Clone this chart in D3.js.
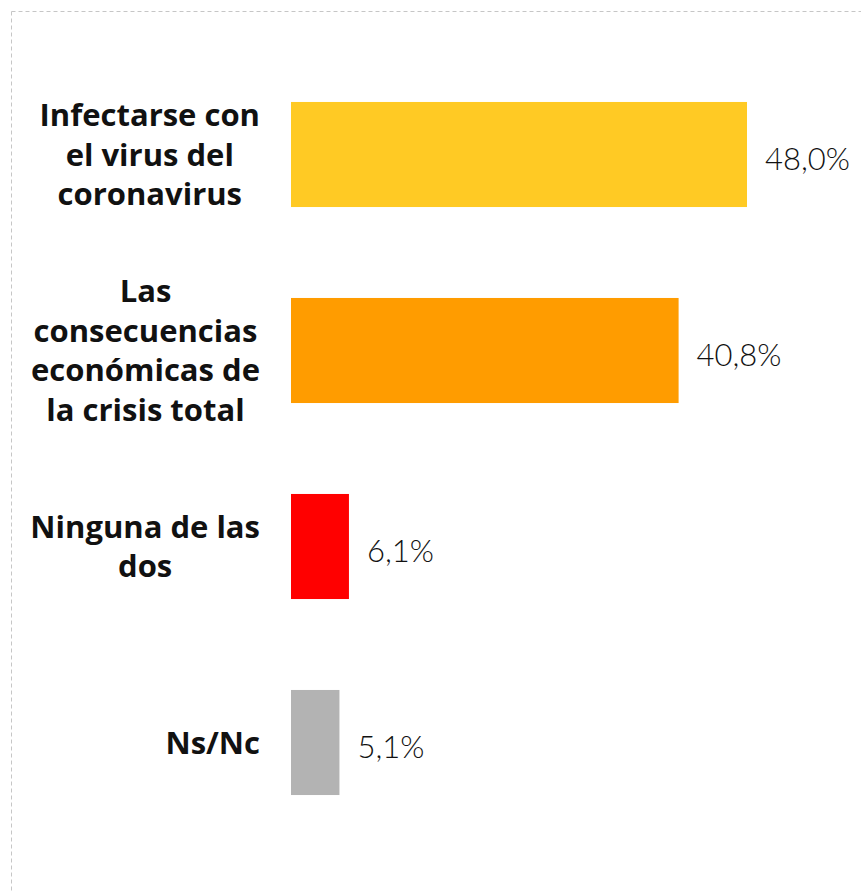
<!DOCTYPE html>
<html><head><meta charset="utf-8">
<script src="https://cdn.jsdelivr.net/npm/d3@7"></script>
<style>body{margin:0;background:#fff}svg{display:block}</style>
</head><body>
<script>
const categories = ["Infectarse con\nel virus del\ncoronavirus", "Las\nconsecuencias\neconómicas de\nla crisis total", "Ninguna de las\ndos", "Ns/Nc"];
const values = [48.0, 40.8, 6.1, 5.1];
const valueLabels = ["48,0%", "40,8%", "6,1%", "5,1%"];
const colors = ["#FFCA24", "#FF9C00", "#FF0000", "#B3B3B3"];

const W = 861, H = 893;
const svg = d3.select("body").append("svg").attr("width", W).attr("height", H);

// dashed frame (top and left)
svg.append("line").attr("x1", 11.5).attr("x2", W).attr("y1", 11.5).attr("y2", 11.5)
  .attr("stroke", "#c6c6c6").attr("stroke-width", 1).attr("stroke-dasharray", "4,3");
svg.append("line").attr("x1", 11.5).attr("x2", 11.5).attr("y1", 11.5).attr("y2", H)
  .attr("stroke", "#c6c6c6").attr("stroke-width", 1).attr("stroke-dasharray", "4,3");

const x = d3.scaleLinear().domain([0, 50]).range([291, 291 + 475]);
const y = d3.scaleBand().domain(d3.range(categories.length)).range([56.5, 840.5]).paddingInner(0.464).paddingOuter(0.232);

const g = svg.append("g");
g.selectAll("rect").data(values).join("rect")
  .attr("x", x(0)).attr("y", (d, i) => y(i))
  .attr("width", d => x(d) - x(0)).attr("height", y.bandwidth())
  .attr("fill", (d, i) => colors[i]);

g.selectAll("text.val").data(values).join("text").attr("class", "val")
  .attr("x", d => x(d) + 18).attr("y", (d, i) => y(i) + y.bandwidth() / 2 + 15)
  .attr("font-family", "Lato").attr("font-weight", 300).attr("font-size", 31)
  .attr("fill", "#111").text((d, i) => valueLabels[i]);

const lh = 39.5;
const rightEdge = 260;
categories.forEach((c, i) => {
  const lines = c.split("\n");
  const cy = y(i) + y.bandwidth() / 2;
  const t = g.append("text").attr("text-anchor", "middle")
    .attr("font-family", "Open Sans").attr("font-weight", 700).attr("font-size", 31)
    .attr("fill", "#111");
  const spans = lines.map((l, k) => t.append("tspan")
      .attr("y", cy + (k - (lines.length - 1) / 2) * lh + 11).text(l));
  const maxW = d3.max(spans, s => s.node().getComputedTextLength());
  spans.forEach(s => s.attr("x", rightEdge - maxW / 2));
});
</script>
</body></html>
